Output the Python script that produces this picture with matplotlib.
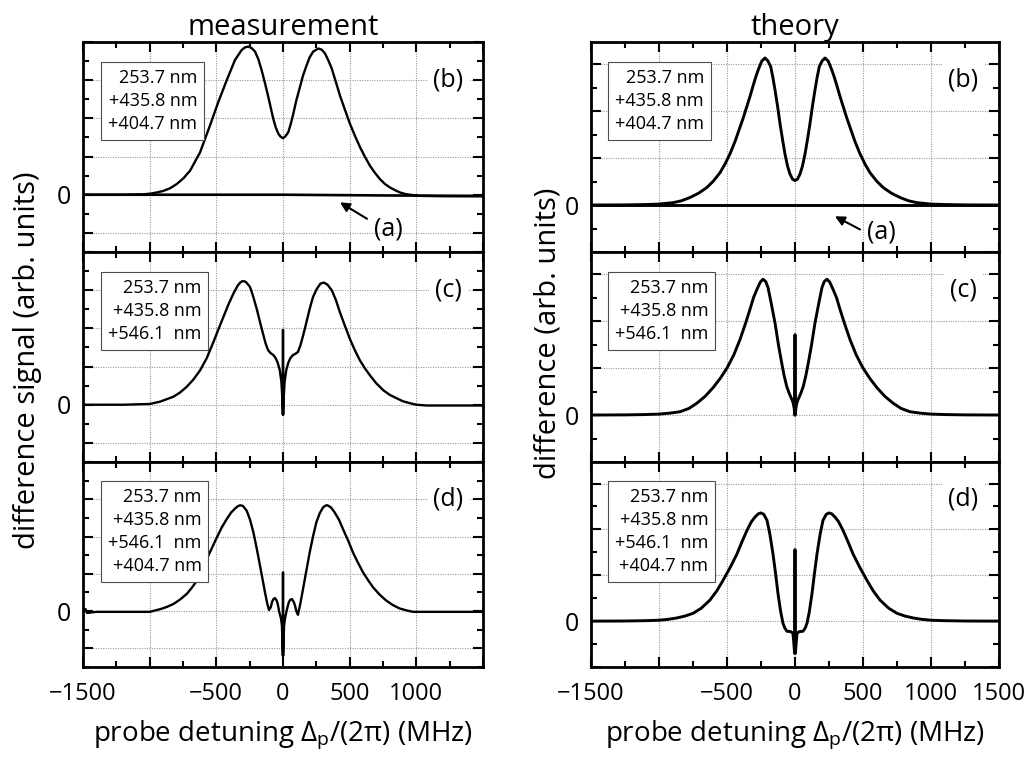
import numpy as np
import matplotlib
matplotlib.use("Agg")
import matplotlib.pyplot as plt
from matplotlib.ticker import FixedLocator, FixedFormatter, MultipleLocator, FuncFormatter

plt.rcParams['font.family'] = ['Open Sans', 'DejaVu Sans']
plt.rcParams['mathtext.default'] = 'regular'

# x ticks (MHz)
x_ticks = [-1500, -1000, -500, 0, 500, 1000, 1500]
x_labels_meas = ['\u22121500', '', '\u2212500', '0', '500', '1000', '']
x_labels_theo = ['\u22121500', '', '\u2212500', '0', '500', '1000', '1500']

meas_a = [(-1500, 0.0), (-800, 0.0), (0, 0.0), (800, -0.02), (1500, -0.03)]

meas_b = [(-1500, 0.0), (-1200, 0.0), (-1050, 0.01), (-993, 0.03), (-945, 0.06), (-897, 0.1),
          (-847, 0.17), (-797, 0.28), (-747, 0.43), (-697, 0.63),
          (-622, 1.11), (-547, 1.82), (-485, 2.43), (-422, 3.0), (-360, 3.53), (-310, 3.79),
          (-285, 3.86), (-260, 3.88), (-235, 3.84), (-210, 3.75), (-185, 3.55), (-160, 3.26),
          (-135, 2.92), (-110, 2.56), (-90, 2.25), (-73, 1.99), (-55, 1.77), (-35, 1.6),
          (-18, 1.52), (0, 1.48), (18, 1.53), (40, 1.64), (58, 1.85), (77, 2.12), (100, 2.47),
          (127, 2.82), (150, 3.12), (177, 3.39), (200, 3.6), (227, 3.75), (265, 3.83),
          (290, 3.8), (315, 3.7), (340, 3.52), (365, 3.31), (395, 2.97), (427, 2.6),
          (465, 2.22), (502, 1.86), (540, 1.54), (577, 1.25), (615, 0.99), (652, 0.76),
          (690, 0.57), (727, 0.41), (765, 0.28), (802, 0.19), (840, 0.12), (877, 0.06),
          (915, 0.02), (952, 0.0), (1027, -0.03), (1200, -0.04), (1500, -0.04)]

meas_c = [(-1500, 0.0), (-1200, 0.0), (-1000, 0.02), (-922, 0.08), (-822, 0.21), (-772, 0.32),
          (-722, 0.47), (-672, 0.66), (-622, 0.9), (-572, 1.22), (-522, 1.64), (-485, 1.97),
          (-447, 2.3), (-410, 2.62), (-372, 2.91), (-340, 3.12), (-318, 3.21), (-300, 3.24),
          (-280, 3.22), (-260, 3.14), (-247, 3.08), (-225, 2.85), (-197, 2.51), (-175, 2.2),
          (-150, 1.86), (-130, 1.6), (-112, 1.43), (-92, 1.35), (-72, 1.3), (-55, 1.22),
          (-40, 1.1), (-25, 0.92), (-12, 0.6), (-4, 0.1), (-1, -0.26), (0, 1.96), (1, -0.26),
          (4, 0.1), (12, 0.6), (25, 0.92), (40, 1.1), (55, 1.22), (75, 1.3), (95, 1.34),
          (112, 1.38), (130, 1.55), (150, 1.8), (175, 2.15), (200, 2.51), (225, 2.82),
          (253, 3.03), (280, 3.17), (307, 3.2), (335, 3.14), (367, 2.99), (397, 2.74),
          (427, 2.42), (465, 2.06), (502, 1.72), (540, 1.42), (577, 1.16), (615, 0.95),
          (652, 0.77), (700, 0.56), (752, 0.38), (800, 0.26), (852, 0.17), (900, 0.09),
          (952, 0.04), (1000, 0.0), (1077, -0.02), (1300, -0.02), (1500, -0.02)]

meas_d = [(-1500, 0.05), (-1480, 0.05), (-1470, -0.05), (-1400, -0.02), (-1200, -0.02),
          (-1000, -0.02), (-922, 0.05), (-872, 0.11), (-822, 0.19), (-772, 0.31), (-722, 0.46),
          (-685, 0.62), (-647, 0.81), (-610, 1.08), (-572, 1.39), (-535, 1.68), (-497, 1.97),
          (-460, 2.24), (-422, 2.47), (-390, 2.64), (-360, 2.75), (-340, 2.81), (-322, 2.84),
          (-300, 2.82), (-272, 2.69), (-247, 2.45), (-222, 2.11), (-197, 1.68), (-172, 1.21),
          (-152, 0.83), (-135, 0.5), (-118, 0.2), (-105, 0.03), (-92, 0.1), (-82, 0.25),
          (-70, 0.33), (-60, 0.35), (-50, 0.3), (-40, 0.2), (-27, -0.04), (-15, -0.2),
          (-8, -0.39), (-1, -1.2), (0, 1.04), (1, -1.2), (8, -0.39), (15, -0.2), (27, 0.01),
          (37, 0.15), (45, 0.25), (56, 0.31), (67, 0.32), (80, 0.25), (90, 0.15), (100, 0.0),
          (112, -0.1), (130, 0.2), (150, 0.59), (175, 1.08), (200, 1.57), (225, 2.0),
          (250, 2.38), (275, 2.62), (300, 2.78), (318, 2.83), (333, 2.84), (360, 2.78),
          (387, 2.65), (420, 2.45), (450, 2.2), (490, 1.88), (525, 1.57), (562, 1.3),
          (600, 1.04), (640, 0.82), (675, 0.64), (725, 0.44), (775, 0.28), (825, 0.16),
          (875, 0.07), (925, 0.02), (975, -0.02), (1200, -0.02), (1500, -0.02)]

# ---- theory ----
theo_a = [(-1500, 0.0), (1500, 0.0)]

theo_b = [(-1500, 0.0), (-1250, 0.003), (-1100, 0.01), (-1000, 0.02), (-950, 0.035),
          (-897, 0.05), (-835, 0.09), (-772, 0.16), (-710, 0.25), (-649, 0.37), (-600, 0.51),
          (-551, 0.69), (-515, 0.87), (-478, 1.09), (-440, 1.36), (-404, 1.66), (-380, 1.86),
          (-355, 2.09), (-330, 2.32), (-306, 2.56), (-288, 2.73), (-270, 2.88), (-245, 3.06),
          (-221, 3.13), (-200, 3.07), (-179, 2.95), (-163, 2.72), (-147, 2.45), (-128, 2.1),
          (-110, 1.73), (-92, 1.4), (-74, 1.09), (-55, 0.83), (-37, 0.66), (-18, 0.55),
          (0, 0.52), (18, 0.55), (37, 0.66), (55, 0.83), (74, 1.09), (92, 1.4), (110, 1.73),
          (128, 2.1), (147, 2.45), (163, 2.72), (179, 2.95), (200, 3.07), (221, 3.13),
          (245, 3.06), (270, 2.88), (288, 2.73), (306, 2.56), (330, 2.32), (355, 2.09),
          (380, 1.86), (404, 1.66), (440, 1.36), (478, 1.09), (515, 0.87), (551, 0.69),
          (600, 0.51), (649, 0.37), (710, 0.25), (772, 0.16), (835, 0.09), (897, 0.05),
          (950, 0.035), (1000, 0.02), (1100, 0.01), (1250, 0.003), (1500, 0.0)]

theo_c = [(-1500, 0.0), (-1250, 0.003), (-1100, 0.01), (-1000, 0.02), (-920, 0.04),
          (-845, 0.07), (-780, 0.14), (-722, 0.25), (-660, 0.4), (-603, 0.58), (-550, 0.78),
          (-500, 1.0), (-450, 1.28), (-404, 1.61), (-365, 1.94), (-331, 2.25), (-305, 2.5),
          (-279, 2.68), (-255, 2.83), (-235, 2.89), (-215, 2.84), (-198, 2.71), (-175, 2.38),
          (-147, 1.96), (-122, 1.5), (-98, 1.11), (-80, 0.84), (-61, 0.61), (-45, 0.48),
          (-32, 0.39), (-20, 0.31), (-13, 0.25), (-6, 0.14), (-1, 0.0), (0, 1.71), (1, 0.0),
          (6, 0.14), (13, 0.25), (20, 0.31), (32, 0.39), (45, 0.48), (61, 0.61), (80, 0.84),
          (98, 1.11), (122, 1.5), (147, 1.96), (175, 2.38), (198, 2.71), (215, 2.84),
          (235, 2.89), (255, 2.83), (279, 2.68), (305, 2.5), (331, 2.25), (365, 1.94),
          (404, 1.61), (450, 1.28), (500, 1.0), (550, 0.78), (603, 0.58), (660, 0.4),
          (722, 0.25), (780, 0.14), (845, 0.07), (920, 0.04), (1000, 0.02), (1100, 0.01),
          (1250, 0.003), (1500, 0.0)]

theo_d = [(-1500, 0.0), (-1250, 0.003), (-1100, 0.01), (-1000, 0.02), (-930, 0.04),
          (-868, 0.07), (-810, 0.11), (-750, 0.17), (-690, 0.28), (-625, 0.46), (-575, 0.66),
          (-529, 0.89), (-475, 1.18), (-426, 1.47), (-390, 1.73), (-353, 1.98), (-320, 2.17),
          (-294, 2.27), (-270, 2.34), (-250, 2.36), (-230, 2.33), (-206, 2.2), (-185, 1.9),
          (-162, 1.47), (-143, 1.04), (-125, 0.6), (-105, 0.2), (-88, -0.05), (-75, -0.15),
          (-59, -0.22), (-29, -0.23), (-15, -0.27), (-8, -0.5), (-3, -0.7), (0, 1.56),
          (3, -0.7), (8, -0.5), (15, -0.27), (29, -0.23), (59, -0.22), (75, -0.15),
          (88, -0.05), (105, 0.2), (125, 0.6), (143, 1.04), (162, 1.47), (185, 1.9),
          (206, 2.2), (230, 2.33), (250, 2.36), (270, 2.34), (294, 2.27), (320, 2.17),
          (353, 1.98), (390, 1.73), (426, 1.47), (475, 1.18), (529, 0.89), (575, 0.66),
          (625, 0.46), (690, 0.28), (750, 0.17), (810, 0.11), (868, 0.07), (930, 0.04),
          (1000, 0.02), (1100, 0.01), (1250, 0.003), (1500, 0.0)]

box_b = '253.7 nm\n+435.8 nm\n+404.7 nm'
box_c = '253.7 nm\n+435.8 nm\n+546.1  nm'
box_d = '253.7 nm\n+435.8 nm\n+546.1  nm\n+404.7 nm'

W, H = 1026, 761
fig = plt.figure(figsize=(W / 100, H / 100), dpi=100)

def px_axes(x0, x1, y0, y1):
    return fig.add_axes([x0 / W, 1 - y1 / H, (x1 - x0) / W, (y1 - y0) / H])

rows = [(42, 252), (252, 462), (462, 667)]
left_axes = [px_axes(83, 483, a, b) for a, b in rows]
right_axes = [px_axes(591, 999, a, b) for a, b in rows]

def style(ax, ylim, xlabels, bottom):
    ax.set_xlim(-1500, 1500)
    ax.set_ylim(*ylim)
    ax.xaxis.set_major_locator(FixedLocator(x_ticks))
    ax.xaxis.set_minor_locator(MultipleLocator(250))
    ax.yaxis.set_major_locator(MultipleLocator(1))
    ax.yaxis.set_minor_locator(MultipleLocator(0.5))
    ax.yaxis.set_major_formatter(FuncFormatter(lambda v, p: '0' if abs(v) < 1e-9 else ''))
    if bottom:
        ax.xaxis.set_major_formatter(FixedFormatter(xlabels))
    else:
        ax.xaxis.set_major_formatter(FixedFormatter([''] * len(x_ticks)))
    ax.tick_params(which='both', direction='in', top=True, right=True, width=1.5)
    ax.tick_params(which='major', length=7)
    ax.tick_params(which='minor', length=4)
    ax.tick_params(axis='y', labelsize=18, pad=9)
    ax.tick_params(axis='x', labelsize=17, pad=11)
    for s in ax.spines.values():
        s.set_linewidth(2.0)
    ax.grid(True, which='major', ls=(0, (1, 1.2)), color='0.6', lw=0.8)
    ax.set_axisbelow(True)

def xs(pts):
    return [p[0] for p in pts]

def ys(pts):
    return [p[1] for p in pts]

meas_data = [meas_b, meas_c, meas_d]
theo_data = [theo_b, theo_c, theo_d]
boxes = [box_b, box_c, box_d]
tags = ['(b)', '(c)', '(d)']
box_top = [0.87, 0.87, 0.873]

for i, ax in enumerate(left_axes):
    style(ax, (-1.5, 4.0), x_labels_meas, i == 2)
    ax.plot(xs(meas_data[i]), ys(meas_data[i]), color='k', lw=1.7, zorder=3)
for i, ax in enumerate(right_axes):
    style(ax, (-1.0, 3.47), x_labels_theo, i == 2)
    ax.plot(xs(theo_data[i]), ys(theo_data[i]), color='k', lw=2.1, zorder=3,
            solid_joinstyle='round')

left_axes[0].plot(xs(meas_a), ys(meas_a), color='k', lw=1.9, zorder=3)
right_axes[0].plot(xs(theo_a), ys(theo_a), color='k', lw=2.1, zorder=3)

for col, frac_x in [(left_axes, 0.063), (right_axes, 0.059)]:
    for i, ax in enumerate(col):
        ax.text(frac_x, box_top[i], boxes[i], transform=ax.transAxes, ha='left', va='top',
                multialignment='right', fontsize=13, linespacing=1.36, zorder=5,
                bbox=dict(boxstyle='square,pad=0.38', fc='white', ec='0.3', lw=0.8))
        ax.text(0.913, 0.82, tags[i], transform=ax.transAxes, ha='center', va='center',
                fontsize=18, zorder=4,
                bbox=dict(boxstyle='square,pad=0.25', fc='white', ec='none'))

# (a) arrows
arr = dict(arrowstyle='-|>', color='k', lw=1.5, mutation_scale=14, shrinkA=0, shrinkB=0)
left_axes[0].annotate('', xy=(427, -0.2), xytext=(630, -0.63), arrowprops=arr, zorder=4)
left_axes[0].text(787, -0.9, '(a)', ha='center', va='center', fontsize=18)
right_axes[0].annotate('', xy=(294, -0.24), xytext=(478, -0.52), arrowprops=arr, zorder=4)
right_axes[0].text(632, -0.58, '(a)', ha='center', va='center', fontsize=18)

left_axes[0].set_title('measurement', fontsize=21, pad=4)
right_axes[0].set_title('theory', fontsize=21, pad=4)

xlab = 'probe detuning \u0394$_\\mathregular{p}$/(2\u03c0) (MHz)'
left_axes[2].set_xlabel(xlab, fontsize=20, labelpad=9)
right_axes[2].set_xlabel(xlab, fontsize=20, labelpad=9)

fig.text(28 / W, 1 - 360 / H, 'difference signal (arb. units)', rotation=90,
         ha='center', va='center', fontsize=21)
fig.text(548 / W, 1 - 333 / H, 'difference (arb. units)', rotation=90,
         ha='center', va='center', fontsize=21)

fig.savefig('out.png', dpi=100)
